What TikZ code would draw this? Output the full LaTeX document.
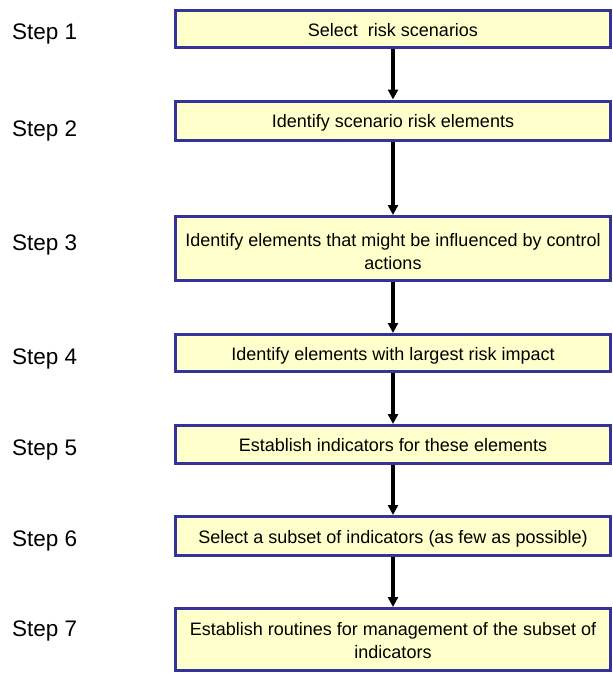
\documentclass[tikz,border=0pt]{standalone}
\usepackage{fontspec}
\setmainfont{Liberation Sans}
\usetikzlibrary{arrows.meta}
\definecolor{boxfill}{HTML}{FFFFCC}
\definecolor{boxline}{HTML}{333399}
\begin{document}
\begin{tikzpicture}[x=1pt,y=-1pt,
  stepbox/.style={draw=boxline, fill=boxfill, line width=3pt,
    minimum width=435pt, inner sep=0pt, align=center,
    font=\fontsize{18}{23}\selectfont},
  oneline/.style={text height=14pt, text depth=0pt},
  steplabel/.style={anchor=base west, inner sep=0pt,
    font=\fontsize{22.5}{27}\selectfont},
  flow/.style={line width=3.5pt, -{Triangle[width=10pt,length=10pt]}}]
\useasboundingbox (0,0) rectangle (613,673);

% process boxes
\node[stepbox, oneline, minimum height=37pt] (b1) at (393,29)
  {Select\ \ risk scenarios};
\node[stepbox, oneline, minimum height=39pt] (b2) at (393,120.5)
  {Identify scenario risk elements};
\node[stepbox, minimum height=64pt] (b3) at (393,248.5)
  {\rule{0pt}{19pt}Identify elements that might be influenced by control\\actions};
\node[stepbox, oneline, minimum height=37pt] (b4) at (393,353)
  {Identify elements with largest risk impact};
\node[stepbox, oneline, minimum height=38pt] (b5) at (393,444.5)
  {Establish indicators for these elements};
\node[stepbox, oneline, minimum height=39pt] (b6) at (393,536)
  {Select a subset of indicators (as few as possible)};
\node[stepbox, minimum height=62pt] (b7) at (393,639.5)
  {\rule{0pt}{16pt}Establish routines for management of the subset of\\indicators};

% step labels
\node[steplabel] (s1) at (12,39.5) {Step 1};
\node[steplabel] (s2) at (12,136.7) {Step 2};
\node[steplabel] (s3) at (12,250) {Step 3};
\node[steplabel] (s4) at (12,364) {Step 4};
\node[steplabel] (s5) at (12,455) {Step 5};
\node[steplabel] (s6) at (12,546.7) {Step 6};
\node[steplabel] (s7) at (12,636.7) {Step 7};

% connectors
\draw[flow] (b1.south) -- (b2.north);
\draw[flow] (b2.south) -- (b3.north);
\draw[flow] (b3.south) -- (b4.north);
\draw[flow] (b4.south) -- (b5.north);
\draw[flow] (b5.south) -- (b6.north);
\draw[flow] (b6.south) -- (b7.north);
\end{tikzpicture}
\end{document}
